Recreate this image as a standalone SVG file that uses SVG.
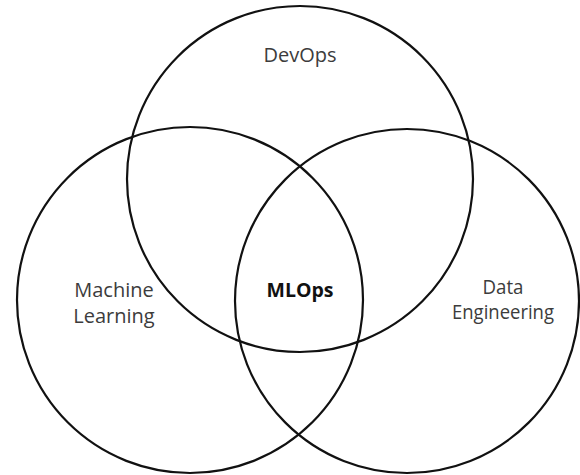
<svg xmlns="http://www.w3.org/2000/svg" width="580" height="475" viewBox="0 0 580 475">
<style>
.c{fill:none;stroke:#111;stroke-width:2.2}
.t{font-family:"Open Sans","DejaVu Sans",sans-serif;font-size:20px;fill:#3c3c3c;text-anchor:middle}
.b{font-family:"Open Sans","DejaVu Sans",sans-serif;font-size:20px;font-weight:bold;fill:#111;text-anchor:middle}
</style>
<rect width="580" height="475" fill="#fff"/>
<g id="devops"><circle class="c" cx="300" cy="179" r="173"/><text class="t" x="300" y="62">DevOps</text></g>
<g id="ml"><circle class="c" cx="190" cy="300" r="173"/><text class="t" x="114" y="297">Machine</text><text class="t" x="114" y="323">Learning</text></g>
<g id="de"><circle class="c" cx="407" cy="301" r="172"/><text class="t" x="503" y="294" textLength="41" lengthAdjust="spacingAndGlyphs">Data</text><text class="t" x="503" y="319" textLength="102" lengthAdjust="spacingAndGlyphs">Engineering</text></g>
<g id="mlops"><text class="b" x="300" y="297" textLength="67" lengthAdjust="spacingAndGlyphs">MLOps</text></g>
<g id="connectors"/>
</svg>
